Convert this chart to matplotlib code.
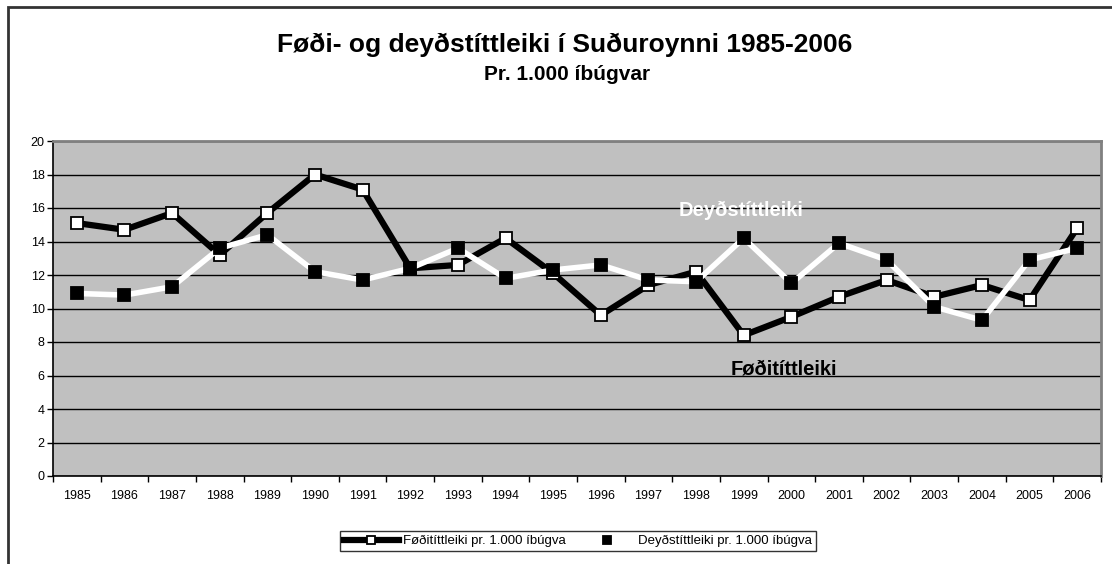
import matplotlib.pyplot as plt
from matplotlib.patches import Rectangle

plt.rcParams['font.family'] = ['Liberation Sans', 'DejaVu Sans']

# data (per 1000 inhabitants)
years = [str(y) for y in range(1985, 2007)]
fodi = [15.1, 14.7, 15.7, 13.2, 15.7, 18.0, 17.1, 12.4, 12.6, 14.2, 12.1,
        9.6, 11.4, 12.2, 8.4, 9.5, 10.7, 11.7, 10.7, 11.4, 10.5, 14.8]
deyd = [10.9, 10.8, 11.3, 13.6, 14.4, 12.2, 11.7, 12.4, 13.6, 11.8, 12.3,
        12.6, 11.7, 11.6, 14.2, 11.5, 13.9, 12.9, 10.1, 9.3, 12.9, 13.6]

fig = plt.figure(figsize=(11.12, 5.64), dpi=100)
ax = fig.add_axes([53 / 1112, 1 - 476 / 564, 1048 / 1112, 335 / 564])

# outer chart frame
fig.patches.append(Rectangle((7.5 / 1112, -0.1), 1.2, 1.1 - 7 / 564,
                             transform=fig.transFigure, fill=False,
                             edgecolor='#333333', linewidth=2))

x = list(range(len(years)))
ax.set_facecolor('#c0c0c0')
ax.plot(x, fodi, color='black', lw=4.5, marker='s', ms=8.5,
        mfc='white', mec='black', mew=1.3, zorder=3,
        label='Føðitíttleiki pr. 1.000 íbúgva')
ax.plot(x, deyd, color='white', lw=4, marker='s', ms=8.5,
        mfc='black', mec='black', mew=1.3, zorder=4,
        label='Deyðstíttleiki pr. 1.000 íbúgva')

ax.set_xlim(-0.5, len(years) - 0.5)
ax.set_ylim(0, 20)
ax.set_yticks(range(0, 21, 2))
ax.yaxis.grid(True, color='black', lw=1)
ax.set_axisbelow(True)

ax.set_xticks(x)
ax.set_xticklabels(years)
ax.set_xticks([i - 0.5 for i in range(len(years) + 1)], minor=True)
ax.tick_params(axis='x', which='major', length=0, labelsize=9, pad=10)
ax.tick_params(axis='x', which='minor', length=4, width=1, direction='out')
ax.tick_params(axis='y', length=4, width=1, labelsize=9, pad=2)

for s in ['top', 'right']:
    ax.spines[s].set_color('#808080')
    ax.spines[s].set_linewidth(2)
ax.spines['left'].set_linewidth(1.2)
ax.spines['bottom'].set_linewidth(1.2)

ax.text(13.95, 15.85, 'Deyðstíttleiki', color='white', fontsize=14.5,
        fontweight='bold', ha='center', va='center', zorder=5)
ax.text(14.85, 6.4, 'Føðitíttleiki', color='black', fontsize=14.5,
        fontweight='bold', ha='center', va='center', zorder=5)

fig.text(565 / 1112, 1 - 45 / 564, 'Føði- og deyðstíttleiki í Suðuroynni 1985-2006',
         ha='center', va='center', fontsize=19, fontweight='bold')
fig.text(567 / 1112, 1 - 74 / 564, 'Pr. 1.000 íbúgvar',
         ha='center', va='center', fontsize=15, fontweight='bold')

leg = fig.legend(loc='center', bbox_to_anchor=(578 / 1112, 1 - 541 / 564),
                 ncol=2, fontsize=9.5, frameon=True, fancybox=False,
                 edgecolor='black', handlelength=4.2, columnspacing=1.0,
                 borderpad=0.3, handletextpad=0.3, markerscale=0.75)
leg.get_frame().set_linewidth(1)

fig.savefig('out.png', dpi=100)
